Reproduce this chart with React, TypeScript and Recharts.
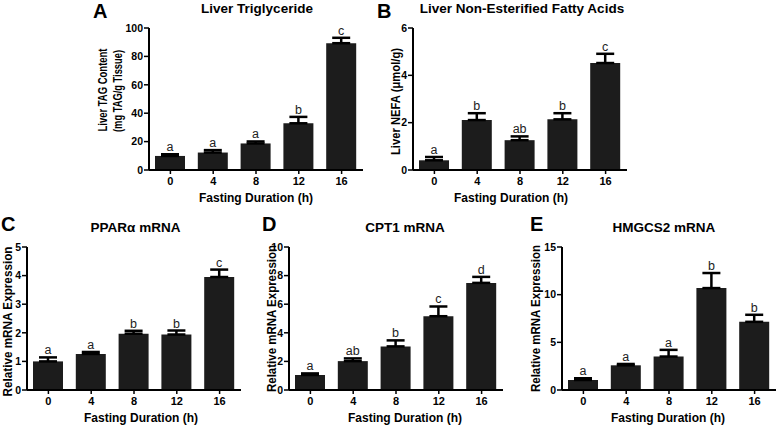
import { Bar, BarChart, ErrorBar, LabelList, XAxis, YAxis } from "recharts";

const hours = ["0", "4", "8", "12", "16"];

// A - liver TAG (mg TAG/g tissue)
const tagMean = [9.9, 12.3, 18.7, 32.9, 89.3];
const tagSem = [1.2, 1.7, 1.4, 4.5, 3.8];
const tagSig = ["a", "a", "a", "b", "c"];

// B - liver NEFA (umol/g)
const nefaMean = [0.41, 2.11, 1.26, 2.14, 4.52];
const nefaSem = [0.14, 0.29, 0.16, 0.26, 0.39];
const nefaSig = ["a", "b", "ab", "b", "c"];

// C - PPARa mRNA
const pparMean = [1.0, 1.26, 1.97, 1.94, 3.95];
const pparSem = [0.14, 0.07, 0.1, 0.14, 0.26];
const pparSig = ["a", "a", "b", "b", "c"];

// D - CPT1 mRNA
const cptMean = [1.05, 2.02, 3.05, 5.16, 7.49];
const cptSem = [0.11, 0.19, 0.42, 0.68, 0.42];
const cptSig = ["a", "ab", "b", "c", "d"];

// E - HMGCS2 mRNA
const hmgMean = [1.05, 2.59, 3.51, 10.69, 7.15];
const hmgSem = [0.18, 0.14, 0.7, 1.58, 0.74];
const hmgSig = ["a", "a", "a", "b", "b"];

const tagTicks = [0, 20, 40, 60, 80, 100];
const nefaTicks = [0, 2, 4, 6];
const pparTicks = [0, 1, 2, 3, 4, 5];
const cptTicks = [0, 2, 4, 6, 8, 10];
const hmgTicks = [0, 5, 10, 15];

const FONT = "'Liberation Sans', Arial, Helvetica, sans-serif";
const PLOT_W = 214;
const LEFT = 60;
const TOP = 16;
const BOTTOM = 40;

type PanelProps = {
  means: number[];
  sems: number[];
  sig: string[];
  ticks: number[];
  axisX: number;
  yTop: number;
  yBottom: number;
};

function Panel({ means, sems, sig, ticks, axisX, yTop, yBottom }: PanelProps) {
  const data = hours.map((h, i) => ({
    h,
    mean: means[i],
    sem: sems[i],
    err: [0, sems[i]],
    sig: sig[i],
  }));
  const plotH = yBottom - yTop;

  const renderSig = (props: any) => {
    const vb = props.viewBox ?? props;
    const d = data[props.index];
    if (!d || vb.height == null) return null;
    const perUnit = vb.height / d.mean;
    const errTop = vb.y - d.sem * perUnit;
    return (
      <text
        x={vb.x + vb.width / 2}
        y={errTop - 3}
        textAnchor="middle"
        fontSize={12.5}
        fontFamily={FONT}
        fill="#222"
      >
        {props.value}
      </text>
    );
  };

  return (
    <div style={{ position: "absolute", left: axisX - LEFT, top: yTop - TOP }}>
      <BarChart
        width={LEFT + PLOT_W + 4}
        height={TOP + plotH + BOTTOM}
        data={data}
        margin={{ top: TOP, right: 4, bottom: 0, left: 0 }}
        barCategoryGap={0}
      >
        <XAxis
          dataKey="h"
          height={BOTTOM}
          interval={0}
          tickSize={4}
          tickMargin={3}
          axisLine={{ stroke: "#000", strokeWidth: 2 }}
          tickLine={{ stroke: "#000", strokeWidth: 1.5 }}
          tick={{ fill: "#000", fontSize: 11, fontWeight: "bold", fontFamily: FONT }}
        />
        <YAxis
          width={LEFT}
          domain={[0, ticks[ticks.length - 1]]}
          ticks={ticks}
          interval={0}
          tickSize={5}
          tickMargin={1}
          axisLine={{ stroke: "#000", strokeWidth: 2 }}
          tickLine={{ stroke: "#000", strokeWidth: 1.5 }}
          tick={{ fill: "#000", fontSize: 10.5, fontWeight: "bold", fontFamily: FONT }}
        />
        <Bar dataKey="mean" fill="#1c1c1c" barSize={30} isAnimationActive={false}>
          <ErrorBar dataKey="err" direction="y" width={9} stroke="#000" strokeWidth={2.5} />
          <LabelList dataKey="sig" content={renderSig} />
        </Bar>
      </BarChart>
    </div>
  );
}

const letters = [
  { t: "A", x: 93, y: 18 },
  { t: "B", x: 377, y: 18 },
  { t: "C", x: 1, y: 231 },
  { t: "D", x: 262, y: 231 },
  { t: "E", x: 530, y: 231 },
];

const titles = [
  { t: "Liver Triglyceride", x: 257, y: 13 },
  { t: "Liver Non-Esterified Fatty Acids", x: 522, y: 13 },
  { t: "PPARα mRNA", x: 135.5, y: 232 },
  { t: "CPT1 mRNA", x: 405, y: 232 },
  { t: "HMGCS2 mRNA", x: 664, y: 232 },
];

const xTitles = [
  { x: 256, y: 202 },
  { x: 511, y: 202 },
  { x: 141, y: 421.5 },
  { x: 405, y: 421.5 },
  { x: 668, y: 421.5 },
];

const yTitles = [
  { t: "Liver TAG Content", x: 102.5, y: 90, len: 83 },
  { t: "(mg TAG/g Tissue)", x: 117.5, y: 91, len: 82 },
  { t: "Liver NEFA (μmol/g)", x: 395, y: 101.5, len: 107 },
  { t: "Relative mRNA Expression", x: 7.5, y: 321.5, len: 150 },
  { t: "Relative mRNA Expression", x: 271.5, y: 318.5, len: 147 },
  { t: "Relative mRNA Expression", x: 535, y: 318.5, len: 147 },
];

export default function App() {
  return (
    <div
      style={{
        position: "absolute",
        left: 0,
        top: 0,
        width: 778,
        height: 425,
        overflow: "hidden",
        background: "#fff",
        fontFamily: FONT,
      }}
    >
      <Panel means={tagMean} sems={tagSem} sig={tagSig} ticks={tagTicks} axisX={149} yTop={28} yBottom={170} />
      <Panel means={nefaMean} sems={nefaSem} sig={nefaSig} ticks={nefaTicks} axisX={413} yTop={28} yBottom={170} />
      <Panel means={pparMean} sems={pparSem} sig={pparSig} ticks={pparTicks} axisX={27} yTop={247} yBottom={390} />
      <Panel means={cptMean} sems={cptSem} sig={cptSig} ticks={cptTicks} axisX={289} yTop={247} yBottom={390} />
      <Panel means={hmgMean} sems={hmgSem} sig={hmgSig} ticks={hmgTicks} axisX={562} yTop={247} yBottom={390} />

      <svg
        width={778}
        height={425}
        style={{ position: "absolute", left: 0, top: 0, pointerEvents: "none" }}
      >
        {letters.map((l) => (
          <text key={l.t} x={l.x} y={l.y} fontSize={20} fontWeight="bold" fontFamily={FONT} fill="#000">
            {l.t}
          </text>
        ))}
        {titles.map((t) => (
          <text key={t.t} x={t.x} y={t.y} textAnchor="middle" fontSize={13.5} fontWeight="bold" fontFamily={FONT} fill="#000">
            {t.t}
          </text>
        ))}
        {xTitles.map((t, i) => (
          <text key={i} x={t.x} y={t.y} textAnchor="middle" fontSize={12} fontWeight="bold" fontFamily={FONT} fill="#000">
            Fasting Duration (h)
          </text>
        ))}
        {yTitles.map((t, i) => (
          <text
            key={i}
            x={t.x}
            y={t.y}
            dy="0.36em"
            transform={`rotate(-90 ${t.x} ${t.y})`}
            textAnchor="middle"
            fontSize={12.5}
            fontWeight="bold"
            fontFamily={FONT}
            fill="#000"
            textLength={t.len}
            lengthAdjust="spacingAndGlyphs"
          >
            {t.t}
          </text>
        ))}
      </svg>
    </div>
  );
}
